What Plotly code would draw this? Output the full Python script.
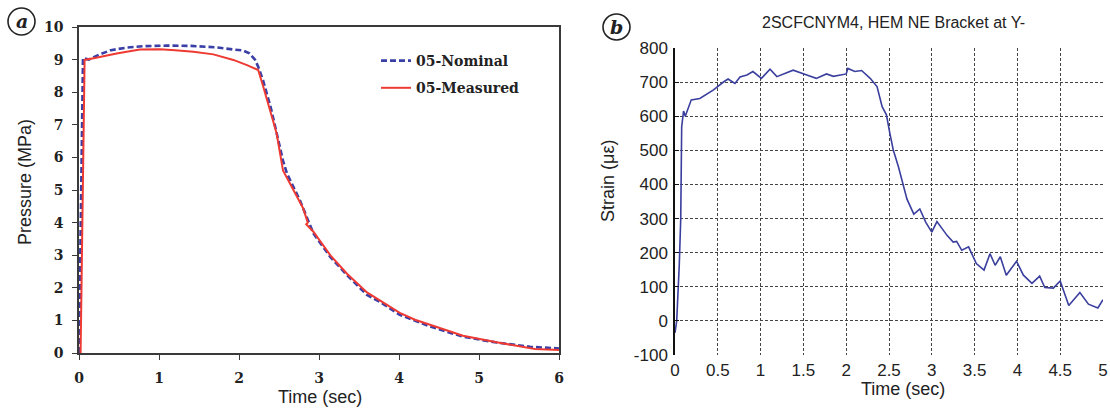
import plotly.graph_objects as go

# ---- Panel (a): pressure ----
nominal_t = [0, 0.05, 0.12, 0.25, 0.4, 0.6, 0.8, 1.1, 1.4, 1.7, 1.93, 2.05, 2.13, 2.2, 2.24, 2.3,
             2.4, 2.47, 2.55, 2.6, 2.76, 2.93, 3.14, 3.35, 3.6, 3.76, 4.01, 4.39, 4.8, 5.22, 5.64, 6.0]
nominal_p = [0, 9.05, 9.0, 9.15, 9.29, 9.37, 9.41, 9.43, 9.42, 9.38, 9.31, 9.28, 9.19, 9.0, 8.78, 8.37,
             7.5, 6.74, 5.9, 5.5, 4.69, 3.67, 2.95, 2.39, 1.78, 1.57, 1.17, 0.81, 0.5, 0.32, 0.19, 0.14]

measured_t = [0.02, 0.07, 0.2, 0.47, 0.76, 1.01, 1.2, 1.43, 1.68, 1.93, 2.1, 2.24, 2.3, 2.35, 2.47,
              2.55, 2.68, 2.8, 2.86, 2.84, 2.93, 3.14, 3.35, 3.6, 3.8, 4.01, 4.2, 4.39, 4.8, 5.22,
              5.5, 5.7, 6.0]
measured_p = [0, 8.99, 9.05, 9.19, 9.31, 9.32, 9.29, 9.24, 9.16, 8.99, 8.83, 8.68, 8.2, 7.76, 6.74,
              5.6, 5.0, 4.45, 4.0, 3.95, 3.72, 3.0, 2.43, 1.86, 1.55, 1.23, 1.02, 0.86, 0.53, 0.33,
              0.22, 0.12, 0.09]

# ---- Panel (b): strain ----
strain_t = [0, 0.02, 0.05, 0.067, 0.078, 0.097, 0.1, 0.12, 0.19, 0.29, 0.45, 0.57, 0.62, 0.70, 0.76,
            0.84, 0.91, 1.01, 1.11, 1.19, 1.38, 1.54, 1.65, 1.77, 1.85, 2.0, 2.02, 2.1, 2.18, 2.28,
            2.36, 2.42, 2.47, 2.51, 2.55, 2.61, 2.67, 2.71, 2.79, 2.86, 2.93, 3.0, 3.06, 3.18, 3.25,
            3.29, 3.35, 3.43, 3.52, 3.61, 3.68, 3.74, 3.80, 3.87, 3.99, 4.07, 4.17, 4.26, 4.32, 4.42,
            4.50, 4.54, 4.60, 4.73, 4.83, 4.94, 5.0]
strain_v = [-35, 0, 165, 300, 569, 604, 615, 600, 648, 652, 677, 701, 709, 696, 715,
            721, 731, 711, 738, 716, 735, 721, 711, 724, 717, 724, 740, 731, 734, 711,
            687, 628, 604, 550, 501, 452, 393, 357, 313, 328, 289, 260, 291, 250, 231,
            233, 207, 217, 168, 149, 197, 163, 188, 134, 175, 134, 110, 131, 98, 96,
            117, 86, 45, 83, 49, 38, 62]

a_xticks = [0, 1, 2, 3, 4, 5, 6]
a_yticks = [0, 1, 2, 3, 4, 5, 6, 7, 8, 9, 10]
b_xticks = [0, 0.5, 1, 1.5, 2, 2.5, 3, 3.5, 4, 4.5, 5]
b_xlabels = ["0", "0.5", "1", "1.5", "2", "2.5", "3", "3.5", "4", "4.5", "5"]
b_yticks = [-100, 0, 100, 200, 300, 400, 500, 600, 700, 800]
b_ylabels = ["-100", "0", "100", "200", "300", "400", "500", "600", "700", "800"]

W, H = 1110, 414
def px(x):
    return x / W
def py(y):
    return 1 - y / H

fig = go.Figure()
fig.add_trace(go.Scatter(x=nominal_t, y=nominal_p, mode="lines", name="05-Nominal",
                         line=dict(color="#3a3fa6", width=2.6, dash="6px,3px"),
                         xaxis="x", yaxis="y", legendgroup="n"))
fig.add_trace(go.Scatter(x=measured_t, y=measured_p, mode="lines", name="05-Measured",
                         line=dict(color="#ee3a32", width=2.0),
                         xaxis="x", yaxis="y", legendgroup="m"))
fig.add_trace(go.Scatter(x=strain_t, y=strain_v, mode="lines", showlegend=False,
                         line=dict(color="#3a3f9e", width=1.6),
                         xaxis="x2", yaxis="y2"))

sans = dict(family="Liberation Sans, Arial", size=17, color="#222")
serif_b = dict(family="DejaVu Serif", size=14, color="#222", weight="bold")

fig.update_layout(
    width=W, height=H,
    margin=dict(l=0, r=0, t=0, b=0, autoexpand=False),
    paper_bgcolor="white", plot_bgcolor="white",
    showlegend=True,
    legend=dict(x=px(376), y=py(45), xanchor="left", yanchor="top",
                font=serif_b, bgcolor="rgba(0,0,0,0)", tracegroupgap=6, itemwidth=30),
    xaxis=dict(domain=[px(79), px(559)], range=[0, 6], tickvals=a_xticks, automargin=False,
               showline=True, mirror=True, linecolor="#3a3a3a", linewidth=1.6,
               ticks="outside", ticklen=5, tickcolor="#3a3a3a", showgrid=False, zeroline=False,
               tickfont=serif_b, ticklabelstandoff=6, anchor="y"),
    yaxis=dict(domain=[py(353), py(27)], range=[0, 10], tickvals=a_yticks, automargin=False,
               showline=True, mirror=True, linecolor="#3a3a3a", linewidth=1.6,
               ticks="outside", ticklen=5, tickcolor="#3a3a3a", showgrid=False, zeroline=False,
               tickfont=serif_b, ticklabelstandoff=6, anchor="x"),
    xaxis2=dict(domain=[px(675), px(1103)], range=[0, 5], tickvals=b_xticks, ticktext=b_xlabels,
                automargin=False, showline=False, showgrid=True, gridcolor="#444", gridwidth=1,
                griddash="3px,2px", zeroline=False, ticks="", tickfont=sans,
                ticklabelstandoff=3, anchor="y2"),
    yaxis2=dict(domain=[py(355), py(48)], range=[-100, 800], tickvals=b_yticks, ticktext=b_ylabels,
                automargin=False, showline=True, linecolor="#111", linewidth=1.5,
                showgrid=True, gridcolor="#444", gridwidth=1, griddash="3px,2px",
                zeroline=False, ticks="inside", ticklen=4, tickcolor="#111",
                tickfont=sans, ticklabelstandoff=2, anchor="x2"),
)

tfont = dict(family="Liberation Sans, Arial", size=18, color="#222")
annotations = [
    dict(text="Pressure (MPa)", x=px(25), y=py(182), textangle=-90, font=tfont),
    dict(text="Time (sec)", x=px(320), y=py(397), font=tfont),
    dict(text="Strain (με)", x=px(608), y=py(181), textangle=-90, font=tfont),
    dict(text="Time (sec)", x=px(903), y=py(389), font=tfont),
    dict(text="2SCFCNYM4, HEM NE Bracket at Y-", x=px(893), y=py(22),
         font=dict(family="Liberation Sans, Arial", size=16, color="#222")),
    dict(text="<b><i>a</i></b>", x=px(21.5), y=py(21), font=dict(family="DejaVu Serif", size=19, color="#222")),
    dict(text="<b><i>b</i></b>", x=px(616.5), y=py(27), font=dict(family="DejaVu Serif", size=19, color="#222")),
]
for a in annotations:
    a.update(xref="paper", yref="paper", showarrow=False, xanchor="center", yanchor="middle")
fig.update_layout(annotations=annotations)

fig.update_layout(shapes=[
    dict(type="circle", xref="paper", yref="paper", x0=px(8), x1=px(35), y0=py(35), y1=py(8),
         line=dict(color="#222", width=1.6)),
    dict(type="circle", xref="paper", yref="paper", x0=px(603), x1=px(630), y0=py(40), y1=py(14),
         line=dict(color="#222", width=1.6)),
])

fig.write_html("out.html", config={"displayModeBar": False},
               post_script="document.body.style.margin='0';document.body.style.padding='0';")
